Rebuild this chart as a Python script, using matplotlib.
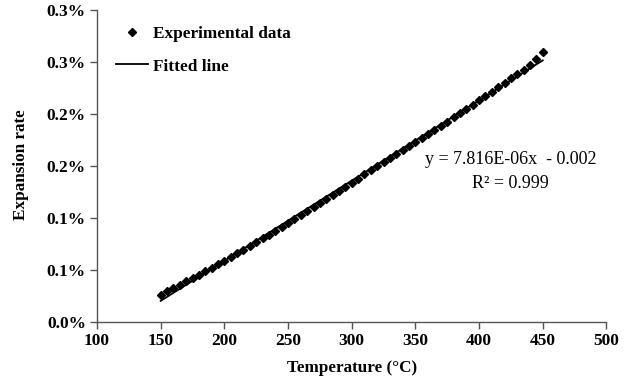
import numpy as np
import matplotlib
matplotlib.use("Agg")
import matplotlib.pyplot as plt
from matplotlib.ticker import MultipleLocator

# ── data (expansion rate in %) ──
temperature = np.arange(150, 451, 5)
expansion_pct = [
    0.0260, 0.0293, 0.0325, 0.0358, 0.0390, 0.0423, 0.0456, 0.0489, 0.0522, 0.0556,
    0.0590, 0.0625, 0.0660, 0.0695, 0.0731, 0.0767, 0.0803, 0.0840, 0.0877, 0.0914,
    0.0951, 0.0989, 0.1027, 0.1066, 0.1105, 0.1144, 0.1183, 0.1222, 0.1261, 0.1300,
    0.1340, 0.1379, 0.1418, 0.1457, 0.1496, 0.1535, 0.1574, 0.1613, 0.1652, 0.1691,
    0.1730, 0.1769, 0.1808, 0.1847, 0.1887, 0.1927, 0.1967, 0.2007, 0.2048, 0.2089,
    0.2130, 0.2172, 0.2214, 0.2256, 0.2298, 0.2341, 0.2384, 0.2427, 0.2470, 0.2525,
    0.2600,
]
expansion = np.array(expansion_pct) / 100.0

ytick_values = [0, 0.0005, 0.001, 0.0015, 0.002, 0.0025, 0.003]
ytick_labels = ["0.0%", "0.1%", "0.1%", "0.2%", "0.2%", "0.3%", "0.3%"]

equation_text = "y = 7.816E-06x  - 0.002\nR² = 0.999"

plt.rcParams["font.family"] = ["Liberation Serif", "DejaVu Serif"]

fig = plt.figure(figsize=(6.32, 3.81), dpi=100)
ax = fig.add_axes([0.1535, 0.155, 0.806, 0.819])

# fitted line from the data
coef = np.polyfit(temperature, expansion, 1)
ax.plot(temperature, np.polyval(coef, temperature), color="black", lw=1.3,
        label="Fitted line", zorder=2)
ax.plot(temperature, expansion, "D", color="black", ms=4.0, lw=0,
        label="Experimental data", zorder=3)

ax.set_xlim(100, 500)
ax.set_ylim(0, 0.003)
ax.xaxis.set_major_locator(MultipleLocator(50))
ax.set_yticks(ytick_values)
ax.set_yticklabels(ytick_labels)

for side in ("top", "right"):
    ax.spines[side].set_visible(False)
for side in ("left", "bottom"):
    ax.spines[side].set_color("#555555")
    ax.spines[side].set_linewidth(1.0)
ax.tick_params(direction="out", length=5, width=1, color="#555555",
               labelsize=12.5, pad=3)
for lbl in ax.get_xticklabels() + ax.get_yticklabels():
    lbl.set_fontweight("bold")

ax.set_xlabel("Temperature (°C)", fontsize=12.3, fontweight="bold")
ax.set_ylabel("Expansion rate", fontsize=12.3, fontweight="bold")
ax.xaxis.set_label_coords(0.5, -0.122)
ax.yaxis.set_label_coords(-0.133, 0.503)

handles, labels = ax.get_legend_handles_labels()
ax.legend(handles[::-1], labels[::-1], loc="upper left",
          bbox_to_anchor=(0.006, 0.998), frameon=False,
          prop={"weight": "bold", "size": 12.4}, handlelength=1.9,
          handletextpad=0.25, labelspacing=0.95)

ax.text(0.812, 0.482, equation_text, transform=ax.transAxes, ha="center",
        va="center", fontsize=13, linespacing=1.55)

fig.savefig("out.png", dpi=100)
